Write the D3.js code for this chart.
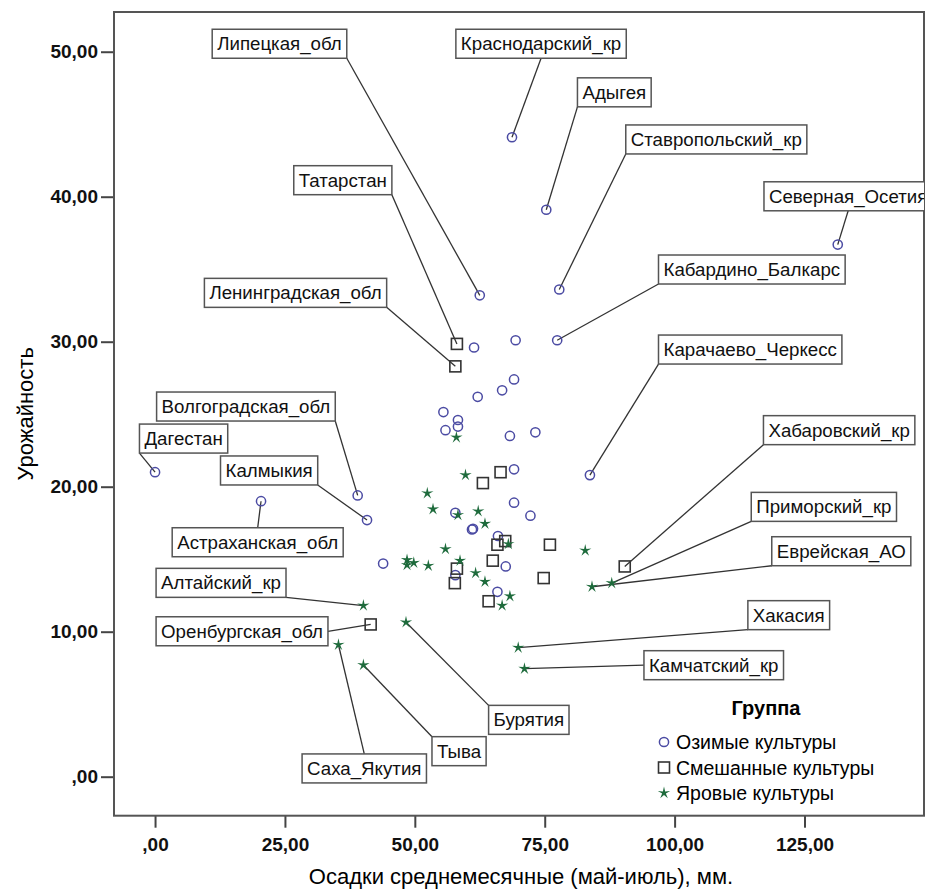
<!DOCTYPE html>
<meta charset="utf-8">
<style>
body { margin: 0; background: #fff; font-family: Arial, 'Liberation Sans', sans-serif; }
.axis text { font-weight: bold; font-size: 19px; fill: #111; }
.axis line { stroke: #444; stroke-width: 2; }
.axis path { display: none; }
.lbl rect { fill: #fff; stroke: #555; stroke-width: 1.5; }
.lbl text { font-size: 18.7px; fill: #111; }
.leader { stroke: #333; stroke-width: 1.3; }
</style>
<body>
<svg width="927" height="890"></svg>
<script src="https://cdn.jsdelivr.net/npm/d3@7"></script>
<script>

var groups = ["Озимые культуры", "Смешанные культуры", "Яровые культуры"];

// осадки (x), урожайность (y), регион (подписан или нет)
var ozimye = [
  [0, 21.0, "Дагестан"], [39.0, 19.4, "Волгоградская_обл"], [40.8, 17.7, "Калмыкия"],
  [20.4, 19.0, "Астраханская_обл"], [43.9, 14.7, ""], [62.5, 33.2, "Липецкая_обл"],
  [77.8, 33.6, "Ставропольский_кр"], [68.7, 44.1, "Краснодарский_кр"], [75.3, 39.1, "Адыгея"],
  [131.4, 36.7, "Северная_Осетия"], [77.4, 30.1, "Кабардино_Балкарс"], [83.7, 20.8, "Карачаево_Черкесс"],
  [61.4, 29.6, ""], [69.4, 30.1, ""], [69.1, 27.4, ""], [66.8, 26.65, ""], [62.1, 26.2, ""],
  [55.5, 25.15, ""], [58.3, 24.6, ""], [58.3, 24.15, ""], [55.9, 23.9, ""], [68.3, 23.5, ""],
  [73.2, 23.75, ""], [69.1, 21.2, ""], [57.8, 18.2, ""], [69.1, 18.9, ""], [72.25, 18.0, ""],
  [61.0, 17.05, ""], [61.2, 17.1, ""], [66.0, 16.6, ""], [57.8, 13.9, ""], [67.5, 14.5, ""],
  [65.9, 12.75, ""]
];

var smeshannye = [
  [58.1, 29.85, "Татарстан"], [57.8, 28.3, "Ленинградская_обл"], [66.5, 21.0, ""],
  [63.1, 20.25, ""], [65.9, 16.0, ""], [67.4, 16.25, ""], [76.0, 16.0, ""], [58.1, 14.35, ""],
  [57.7, 13.35, ""], [65.0, 14.9, ""], [74.8, 13.7, ""], [64.2, 12.1, ""],
  [41.5, 10.5, "Оренбургская_обл"], [90.4, 14.5, "Хабаровский_кр"]
];

var yarovye = [
  [58.0, 23.4, ""], [59.75, 20.8, ""], [52.4, 19.55, ""], [53.5, 18.45, ""], [58.3, 18.05, ""],
  [62.2, 18.3, ""], [63.5, 17.45, ""], [68.0, 16.05, ""], [82.8, 15.6, ""], [48.5, 14.95, ""],
  [48.5, 14.6, ""], [49.8, 14.75, ""], [52.6, 14.55, ""], [55.9, 15.7, ""], [58.7, 14.9, ""],
  [61.7, 14.05, ""], [63.5, 13.45, ""], [68.3, 12.45, ""], [66.8, 11.8, ""],
  [40.1, 11.8, "Алтайский_кр"], [35.3, 9.1, "Саха_Якутия"], [40.1, 7.7, "Тыва"],
  [48.3, 10.65, "Бурятия"], [69.9, 8.9, "Хакасия"], [71.1, 7.45, "Камчатский_кр"],
  [84.1, 13.1, "Еврейская_АО"], [87.9, 13.35, "Приморский_кр"]
];

// левый верхний угол подписи, в единицах осей
var labelPos = {
  "Липецкая_обл": [11.0, 51.55], "Краснодарский_кр": [57.9, 51.55], "Адыгея": [81.3, 48.2],
  "Ставропольский_кр": [90.6, 44.95], "Татарстан": [26.7, 42.14], "Ленинградская_обл": [9.5, 34.37],
  "Северная_Осетия": [117.2, 41.03], "Кабардино_Балкарс": [96.9, 35.98], "Карачаево_Черкесс": [96.9, 30.46],
  "Хабаровский_кр": [117.1, 24.9], "Приморский_кр": [114.75, 19.61], "Еврейская_АО": [118.7, 16.55],
  "Хакасия": [114.1, 12.14], "Камчатский_кр": [94.1, 8.69], "Бурятия": [64.2, 4.92],
  "Тыва": [53.3, 2.76], "Саха_Якутия": [28.3, 1.57], "Оренбургская_обл": [0.2, 11.03],
  "Алтайский_кр": [0.2, 14.37], "Астраханская_обл": [3.3, 17.17], "Калмыкия": [12.6, 22.12],
  "Дагестан": [-3.0, 24.32], "Волгоградская_обл": [0.3, 26.53]
};

var xTicks = [0, 25, 50, 75, 100, 125];
var yTicks = [0, 10, 20, 30, 40, 50];

var svg = d3.select("svg"),
    pL = 114, pT = 12, pR = 924, pB = 815.7;

var x = d3.scaleLinear().domain([-7.9, 148]).range([pL, pR]);
var y = d3.scaleLinear().domain([-2.69, 52.74]).range([pB, pT]);

var fmt = function(d) { return d === 0 ? ",00" : d3.format(".2f")(d).replace(".", ","); };

svg.append("g").attr("class", "axis")
    .attr("transform", "translate(" + pL + ",0)")
    .call(d3.axisLeft(y).tickValues(yTicks).tickFormat(fmt).tickSize(13).tickPadding(3));

svg.append("g").attr("class", "axis")
    .attr("transform", "translate(0," + pB + ")")
    .call(d3.axisBottom(x).tickValues(xTicks).tickFormat(fmt).tickSize(12).tickPadding(10));

svg.append("defs").append("clipPath").attr("id", "clip")
  .append("rect").attr("x", pL).attr("y", pT).attr("width", pR - pL).attr("height", pB - pT);

svg.append("rect")
    .attr("x", pL).attr("y", pT).attr("width", pR - pL).attr("height", pB - pT)
    .attr("fill", "none").attr("stroke", "#555").attr("stroke-width", 2);

svg.append("text")
    .attr("transform", "translate(25," + ((pT + pB) / 2) + ") rotate(-90)")
    .attr("text-anchor", "middle").attr("dominant-baseline", "central")
    .style("font-size", "22px").text("Урожайность");

svg.append("text")
    .attr("x", (pL + pR) / 2 + 2).attr("y", 884)
    .attr("text-anchor", "middle")
    .style("font-size", "22px").text("Осадки среднемесячные (май-июль), мм.");

var plot = svg.append("g").attr("clip-path", "url(#clip)");

function starPath(r) {
  var pts = [];
  for (var i = 0; i < 10; i++) {
    var a = -Math.PI / 2 + i * Math.PI / 5, rr = i % 2 ? r * 0.3 : r;
    pts.push([rr * Math.cos(a), rr * Math.sin(a)]);
  }
  return "M" + pts.join("L") + "Z";
}

var styles = [
  { data: ozimye, draw: function(g) { g.append("circle").attr("r", 4.6).attr("fill", "none").attr("stroke", "#4b4ba3").attr("stroke-width", 1.5); } },
  { data: smeshannye, draw: function(g) { g.append("rect").attr("x", -5.5).attr("y", -5.5).attr("width", 11).attr("height", 11).attr("fill", "none").attr("stroke", "#333").attr("stroke-width", 1.6); } },
  { data: yarovye, draw: function(g) { g.append("path").attr("d", starPath(6.5)).attr("fill", "#1e6b3c"); } }
];

// подписи с выносками
var leaders = plot.append("g"), boxes = plot.append("g"), marks = plot.append("g");

styles.forEach(function(s) {
  s.data.filter(function(d) { return d[2]; }).forEach(function(d) {
    var p = labelPos[d[2]];
    var bx = x(p[0]), by = y(p[1]);
    var g = boxes.append("g").attr("class", "lbl");
    var rect = g.append("rect");
    var t = g.append("text").attr("x", bx + 5).attr("y", by + 21).text(d[2]);
    var w = t.node().getComputedTextLength() + 10, h = 29;
    rect.attr("x", bx).attr("y", by).attr("width", w).attr("height", h);
    var px = x(d[0]), py = y(d[1]);
    var best = null, bestD = Infinity;
    [0, 0.5, 1].forEach(function(fx) {
      [0, 0.5, 1].forEach(function(fy) {
        if (fx === 0.5 && fy === 0.5) return;
        var ax = bx + fx * w, ay = by + fy * h, dd = (ax - px) * (ax - px) + (ay - py) * (ay - py);
        if (dd < bestD) { bestD = dd; best = [ax, ay]; }
      });
    });
    leaders.append("line").attr("class", "leader")
        .attr("x1", px).attr("y1", py).attr("x2", best[0]).attr("y2", best[1]);
  });
});

styles.forEach(function(s) {
  marks.selectAll(null).data(s.data).enter().append("g")
      .attr("transform", function(d) { return "translate(" + x(d[0]) + "," + y(d[1]) + ")"; })
      .each(function() { s.draw(d3.select(this)); });
});

// легенда
var leg = svg.append("g");
leg.append("text").attr("x", 766).attr("y", 715).attr("text-anchor", "middle")
    .style("font-size", "20px").style("font-weight", "bold").text("Группа");
groups.forEach(function(name, i) {
  var gy = 742 + i * 25.5;
  var g = leg.append("g").attr("transform", "translate(664," + gy + ")");
  styles[i].draw(g);
  leg.append("text").attr("x", 676).attr("y", gy).attr("dominant-baseline", "central")
      .style("font-size", "19.5px").text(name);
});

</script>
</body>
